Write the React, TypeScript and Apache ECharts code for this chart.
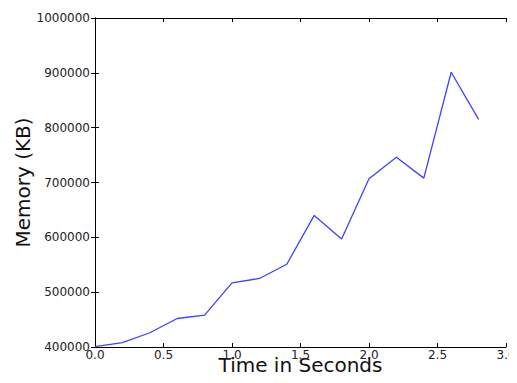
import React, { useEffect, useRef } from "react";
import * as echarts from "echarts";

const times = [0, 0.2, 0.4, 0.6, 0.8, 1.0, 1.2, 1.4, 1.6, 1.8, 2.0, 2.2, 2.4, 2.6, 2.8];
const memoryKB = [400500, 408000, 426000, 452000, 458000, 517000, 525000, 551000, 640000, 597000, 707000, 746000, 708000, 901000, 815000];
const xLabel = "Time in Seconds";
const yLabel = "Memory (KB)";

const FONT = "'DejaVu Sans', sans-serif";

export default function App() {
  const ref = useRef<HTMLDivElement>(null);
  useEffect(() => {
    if (!ref.current) return;
    const chart = echarts.init(ref.current, undefined, { renderer: "svg" });
    const axisLine = { show: true, lineStyle: { color: "#000", width: 1 } };
    const tick = { show: true, inside: true, length: 4, lineStyle: { color: "#000", width: 1 } };
    chart.setOption({
      animation: false,
      backgroundColor: "#fff",
      grid: { left: 95, right: 11, top: 18, bottom: 36, containLabel: false, outerBoundsMode: "none" },
      xAxis: [
        {
          type: "value",
          min: 0,
          max: 3,
          interval: 0.5,
          position: "bottom",
          axisLine,
          axisTick: tick,
          splitLine: { show: false },
          axisLabel: {
            margin: 2,
            color: "#222",
            fontFamily: FONT,
            fontSize: 12,
            formatter: (v: number) => v.toFixed(1),
          },
          name: xLabel,
          nameLocation: "middle",
          nameGap: 8,
          nameMoveOverlap: false,
          nameTextStyle: { fontFamily: FONT, fontSize: 20, color: "#111" },
        },
        {
          type: "value",
          min: 0,
          max: 3,
          interval: 0.5,
          position: "top",
          axisLine,
          axisTick: tick,
          splitLine: { show: false },
          axisLabel: { show: false },
        },
      ],
      yAxis: [
        {
          type: "value",
          min: 400000,
          max: 1000000,
          interval: 100000,
          position: "left",
          axisLine,
          axisTick: tick,
          splitLine: { show: false },
          axisLabel: {
            margin: 5,
            color: "#222",
            fontFamily: FONT,
            fontSize: 12,
            formatter: (v: number) => String(Math.round(v)),
          },
          name: yLabel,
          nameLocation: "middle",
          nameRotate: 90,
          nameGap: 62,
          nameMoveOverlap: false,
          nameTextStyle: { fontFamily: FONT, fontSize: 20, color: "#111" },
        },
        {
          type: "value",
          min: 400000,
          max: 1000000,
          interval: 100000,
          position: "right",
          axisLine,
          axisTick: tick,
          splitLine: { show: false },
          axisLabel: { show: false },
        },
      ],
      series: [
        {
          type: "line",
          data: times.map((t, i) => [t, memoryKB[i]]),
          showSymbol: false,
          symbol: "none",
          lineStyle: { color: "#4040ff", width: 1.3 },
          xAxisIndex: 0,
          yAxisIndex: 0,
        },
      ],
    });
    return () => chart.dispose();
  }, []);
  return <div ref={ref} style={{ width: 517, height: 383, margin: -8 }} />;
}
